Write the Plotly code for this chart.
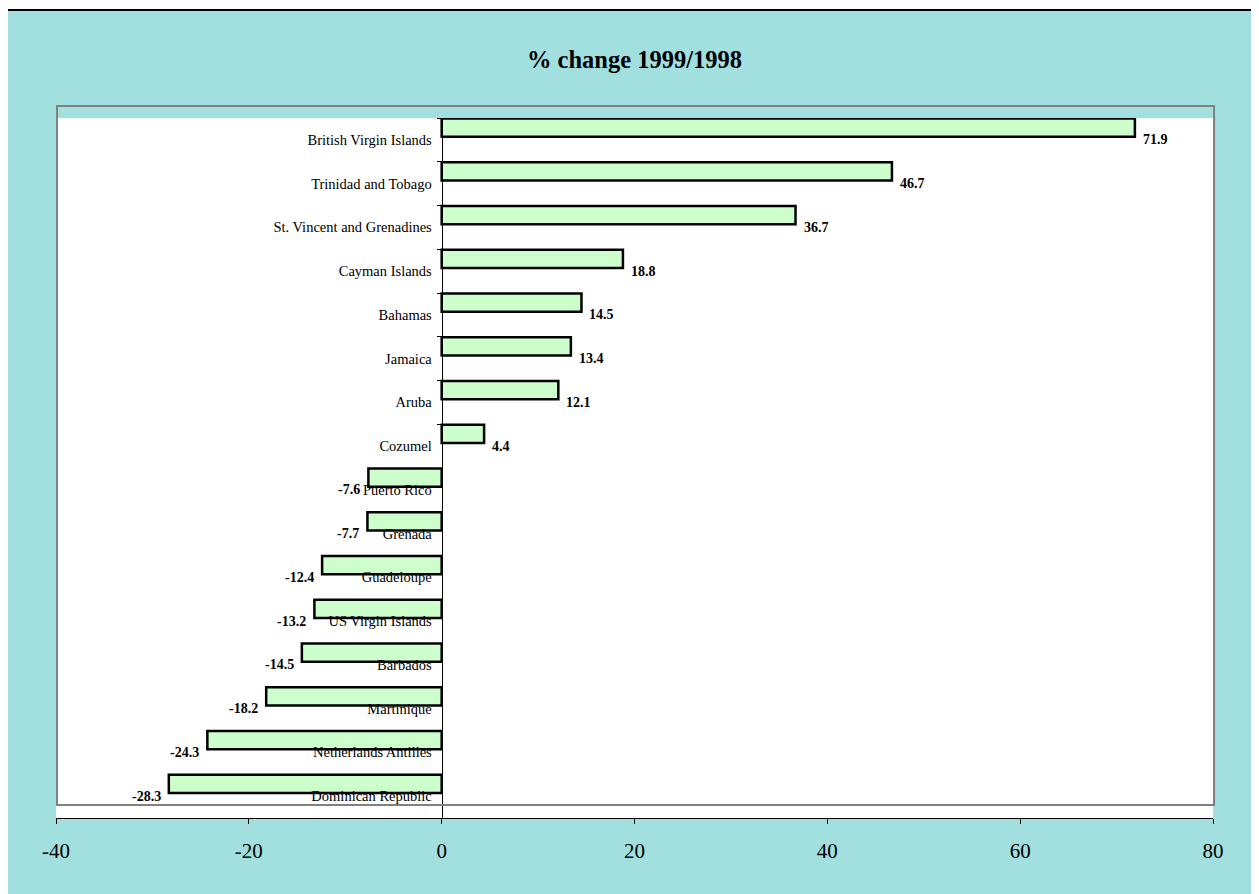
import plotly.graph_objects as go

# Categories from top to bottom, with % change 1999/1998
islands = ['British Virgin Islands', 'Trinidad and Tobago', 'St. Vincent and Grenadines',
           'Cayman Islands', 'Bahamas', 'Jamaica', 'Aruba', 'Cozumel', 'Puerto Rico',
           'Grenada', 'Guadeloupe', 'US Virgin Islands', 'Barbados', 'Martinique',
           'Netherlands Antilles', 'Dominican Republic']
pct_change = [71.9, 46.7, 36.7, 18.8, 14.5, 13.4, 12.1, 4.4, -7.6,
              -7.7, -12.4, -13.2, -14.5, -18.2, -24.3, -28.3]
x_ticks = [-40, -20, 0, 20, 40, 60, 80]
x_tick_text = ['-40', '-20', '0', '20', '40', '60', '80']

TEAL = '#A2DFDF'
SERIF = 'Liberation Serif, Times New Roman, serif'

fig = go.Figure()

fig.add_trace(go.Bar(
    x=pct_change,
    y=islands,
    orientation='h',
    marker=dict(color='#CCFFCC', line=dict(color='black', width=2.5)),
    offset=-0.49,
    width=0.42,
    hoverinfo='x+y',
    showlegend=False
))

# value labels next to bar ends
for name, v in zip(islands, pct_change):
    fig.add_annotation(
        x=v, y=name, text=f'<b>{v}</b>', showarrow=False,
        xanchor='left' if v > 0 else 'right',
        xshift=6 if v > 0 else -6,
        font=dict(family=SERIF, size=14, color='black')
    )

# chart frame (teal with black edge), white plot area, grey plot box
fig.add_shape(type='rect', xref='paper', yref='paper',
              x0=-0.0424, x1=1.06, y0=-0.12, y1=1.1543,
              fillcolor=TEAL, line=dict(color='black', width=2), layer='below')
fig.add_shape(type='rect', xref='paper', yref='paper',
              x0=0, x1=1, y0=0, y1=1,
              fillcolor='white', line=dict(width=0), layer='below')
fig.add_shape(type='rect', xref='paper', yref='paper',
              x0=0.0009, x1=1.0009, y0=0.0186, y1=1.0171,
              fillcolor='rgba(0,0,0,0)', line=dict(color='#808080', width=2), layer='above')

fig.update_layout(
    width=1251, height=886,
    margin=dict(l=48, r=46, t=110, b=76),
    paper_bgcolor='white',
    plot_bgcolor='white',
    title=dict(text='<b>% change 1999/1998</b>', x=0.5, xref='paper', xanchor='center',
               y=1 - 51 / 886, yanchor='middle',
               font=dict(family=SERIF, size=24.5, color='black')),
    xaxis=dict(
        range=[-40, 80], tickmode='array', tickvals=x_ticks, ticktext=x_tick_text,
        showgrid=False, zeroline=False,
        showline=True, linecolor='black', linewidth=1,
        ticks='outside', ticklen=5, tickcolor='black',
        ticklabelstandoff=9,
        tickfont=dict(family=SERIF, size=21, color='black')
    ),
    yaxis=dict(
        range=[15.5, -0.5],
        anchor='free', position=40 / 120,
        showgrid=False, zeroline=False,
        showline=True, linecolor='black', linewidth=1,
        ticks='outside', ticklen=5, tickcolor='black', tickson='boundaries',
        ticklabelstandoff=7,
        tickfont=dict(family=SERIF, size=14.5, color='black')
    )
)

fig.write_html('out.html')
